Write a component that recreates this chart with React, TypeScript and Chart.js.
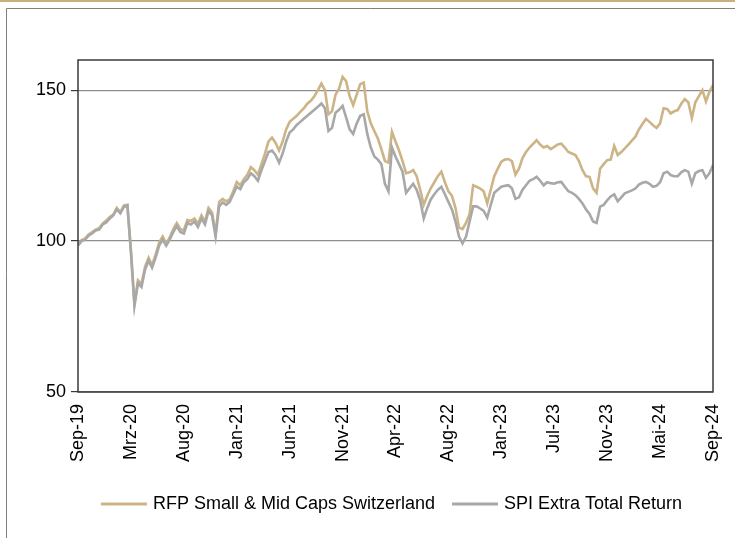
import React, { useEffect, useRef } from "react";
import { Chart, registerables } from "chart.js";

Chart.register(...registerables);

const xTickLabels = ["Sep-19", "Mrz-20", "Aug-20", "Jan-21", "Jun-21", "Nov-21", "Apr-22", "Aug-22", "Jan-23", "Jul-23", "Nov-23", "Mai-24", "Sep-24"];
const yTickValues = [50, 100, 150];
const seriesNames = ["RFP Small & Mid Caps Switzerland", "SPI Extra Total Return"];

const rfpValues = [
  98.8, 100.3, 100.8, 102.2, 103, 103.8, 104.3, 105.8, 106.8, 108, 108.8, 111, 109.5, 111.8, 112,
  97, 79.5, 87, 85.8, 91.5, 94.5, 92, 95.5, 99.5, 101.5, 99.2, 101.2, 104, 106, 104,
  103.5, 107, 106.7, 107.5, 105.8, 108.5, 106.5, 111, 109.5, 102.5, 113, 114, 113.2, 113.8, 116.5,
  119.6, 118.5, 120.5, 122, 124.5, 123.5, 122, 125.5, 129, 133, 134.3, 132.5, 130, 133, 137,
  139.5, 140.5, 141.5, 142.8, 144, 145.5, 146.5, 148, 150, 152.2, 150, 142, 143, 148.5, 150.5,
  154.4, 153, 148, 145, 148.5, 152, 152.5, 143, 139, 136.5, 134, 130.5, 126.5, 126, 136.2,
  133, 130, 126.5, 122.5, 122.8, 123.5, 121.5, 117, 112, 115, 117.5, 119.5, 121.5, 123, 119.5,
  116.5, 115, 111, 104.5, 104, 106, 109, 118.5, 118, 117.4, 116.5, 112.5, 117, 121.5, 124,
  126.3, 127, 127.2, 126.5, 122, 124, 127.5, 129.5, 131, 132.2, 133.4, 132, 131, 131.5, 130.5,
  131.2, 132, 132.3, 131, 129.5, 129, 128.5, 126.5, 123.5, 121.5, 121.3, 117.5, 116, 124, 125.5,
  126.8, 127, 131.5, 128.5, 129.5, 130.7, 132, 133.3, 134.6, 137, 138.8, 140.5, 139.5, 138.4, 137.5,
  139, 144, 143.8, 142.3, 143, 143.4, 145.5, 147, 146, 140.8, 146, 148, 150, 146.3, 149.5,
  151.7,
];

const spiValues = [
  98.5, 100, 100.5, 101.8, 102.5, 103.5, 103.8, 105.5, 106.2, 107.5, 108.5, 110.5, 109.2, 111.3, 111.8,
  96.5, 78.5, 86, 84.8, 90.5, 93.5, 91.2, 94.5, 98.5, 100.5, 98.5, 100.5, 103, 105, 103,
  102.5, 106, 105.5, 106.5, 104.7, 107.5, 105.5, 110, 108.5, 101.5, 111.5, 112.8, 112, 113, 115.5,
  118, 117.2, 119.5, 120.5, 122.5, 121.5, 120, 123.5, 126.5, 129.5, 130, 128.5, 126, 129, 133,
  136, 137, 138.5, 139.5, 140.5, 141.5, 142.5, 143.5, 144.5, 145.6, 144, 136.5, 137.5, 142.5, 143.5,
  144.8, 141, 137, 135.5, 139, 141.5, 142, 135.5, 131, 128, 127, 125.5, 119, 116.5, 131,
  128, 125.5, 123, 116, 117.5, 119, 117, 113.5, 107.5, 111, 113.8, 115.5, 117, 118, 115.5,
  113, 110.5, 106.5, 101.5, 99.2, 101.5, 106.5, 111.5, 111.5, 110.8, 110, 107.8, 112, 116, 117,
  118, 118.3, 118.5, 117.5, 114, 114.5, 117, 118.5, 120, 120.5, 121.3, 120, 118.5, 119.5, 119.2,
  119, 119.5, 119.6, 118, 116.5, 116, 115.2, 114, 112.5, 110.5, 109, 106.5, 106, 111.4, 112,
  113.5, 114.8, 115.5, 113.2, 114.5, 115.8, 116.3, 116.8, 117.4, 118.7, 119.3, 119.6, 119, 118, 118.3,
  119.5, 122.5, 123, 121.9, 121.5, 121.5, 122.8, 123.5, 123, 119, 122.5, 123.2, 123.5, 121, 122.5,
  125.2,
];

const GOLD = "#CDB486";
const GREY = "#A8A8A8";
const FONT = '"Liberation Sans", Arial, sans-serif';

const decorPlugin = {
  id: "decor",
  beforeDraw(chart: any) {
    const { ctx, width, height } = chart;
    ctx.save();
    ctx.fillStyle = "#ffffff";
    ctx.fillRect(0, 0, width, height);
    ctx.strokeStyle = "#C9B17F";
    ctx.lineWidth = 2;
    ctx.beginPath();
    ctx.moveTo(0, 1);
    ctx.lineTo(width, 1);
    ctx.stroke();
    ctx.strokeStyle = "#808080";
    ctx.lineWidth = 1;
    ctx.beginPath();
    ctx.moveTo(6.5, height);
    ctx.lineTo(6.5, 8.5);
    ctx.lineTo(width, 8.5);
    ctx.stroke();
    ctx.restore();
  },
  afterDatasetsDraw(chart: any) {
    const { ctx, chartArea } = chart;
    ctx.save();
    ctx.strokeStyle = "#3a3a3a";
    ctx.lineWidth = 1.5;
    ctx.strokeRect(chartArea.left, chartArea.top, chartArea.right - chartArea.left, chartArea.bottom - chartArea.top);
    ctx.restore();
  },
  afterDraw(chart: any) {
    const { ctx, chartArea } = chart;
    const colors = [GOLD, GREY];
    ctx.save();
    ctx.font = "18px " + FONT;
    const sample = 46;
    const gap = 6;
    const between = 17;
    const widths = seriesNames.map((n) => ctx.measureText(n).width);
    const total = widths.reduce((a, w) => a + sample + gap + w, 0) + between * (seriesNames.length - 1);
    let x = (chartArea.left + chartArea.right) / 2 - 4 - total / 2;
    const y = 504;
    seriesNames.forEach((name, i) => {
      ctx.strokeStyle = colors[i];
      ctx.lineWidth = 3;
      ctx.beginPath();
      ctx.moveTo(x, y);
      ctx.lineTo(x + sample, y);
      ctx.stroke();
      x += sample + gap;
      ctx.fillStyle = "#000";
      ctx.textBaseline = "middle";
      ctx.textAlign = "left";
      ctx.fillText(name, x, y);
      x += widths[i] + between;
    });
    ctx.restore();
  },
};

export default function App() {
  const ref = useRef<HTMLCanvasElement | null>(null);

  useEffect(() => {
    if (!ref.current) return;
    const step = (rfpValues.length - 1) / (xTickLabels.length - 1);
    const chart = new Chart(ref.current, {
      type: "line",
      data: {
        datasets: [
          {
            label: seriesNames[0],
            data: rfpValues.map((v, i) => ({ x: i, y: v })),
            borderColor: GOLD,
            backgroundColor: GOLD,
            borderWidth: 2.6,
            pointRadius: 0,
            tension: 0,
            order: 2,
          },
          {
            label: seriesNames[1],
            data: spiValues.map((v, i) => ({ x: i, y: v })),
            borderColor: GREY,
            backgroundColor: GREY,
            borderWidth: 2.6,
            pointRadius: 0,
            tension: 0,
            order: 1,
          },
        ],
      },
      options: {
        responsive: false,
        animation: false,
        layout: { padding: { top: 60, right: 22, bottom: 0, left: 0 } },
        plugins: { legend: { display: false }, tooltip: { enabled: false } },
        scales: {
          x: {
            type: "linear",
            min: 0,
            max: rfpValues.length - 1,
            afterFit: (s: any) => {
              s.height = 146;
              s.paddingLeft = 0;
              s.paddingRight = 0;
            },
            grid: { display: false, drawTicks: false },
            border: { display: false },
            ticks: {
              stepSize: step,
              autoSkip: false,
              minRotation: 90,
              maxRotation: 90,
              padding: 12,
              color: "#000",
              font: { family: FONT, size: 18 },
              callback: (v: any) => {
                const k = Math.round(Number(v) / step);
                return xTickLabels[k] ?? "";
              },
            },
          },
          y: {
            min: 50,
            max: 160,
            afterFit: (s: any) => {
              s.width = 78;
              s.paddingTop = 0;
              s.paddingBottom = 0;
            },
            afterBuildTicks: (s: any) => {
              s.ticks = yTickValues.map((v) => ({ value: v }));
            },
            border: { display: false },
            grid: {
              color: "#8f8f8f",
              lineWidth: 1.2,
              tickColor: "#3a3a3a",
              tickLength: 7,
            },
            ticks: {
              padding: 5,
              color: "#000",
              font: { family: FONT, size: 18 },
            },
          },
        },
      },
      plugins: [decorPlugin],
    });
    return () => chart.destroy();
  }, []);

  return (
    <div style={{ position: "absolute", left: 0, top: 0, width: 735, height: 538, background: "#fff" }}>
      <canvas ref={ref} width={735} height={538} style={{ display: "block" }} />
    </div>
  );
}
